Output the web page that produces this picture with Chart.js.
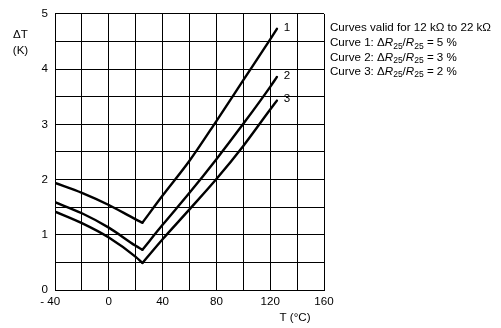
<!DOCTYPE html>
<html>
<head>
<meta charset="utf-8">
<script src="https://cdn.jsdelivr.net/npm/chart.js@4/dist/chart.umd.min.js"></script>
<style>
  html, body { margin: 0; padding: 0; background: #fff; }
  #wrap { width: 501px; height: 328px; }
</style>
</head>
<body>
<div id="wrap"><canvas id="c" width="501" height="328"></canvas></div>
<script>
// Temperatures (°C) for the falling and rising branch of each curve
const tLeft  = [-40, -20, 0, 20, 25];
const tRight = [25, 40, 60, 80, 100, 120, 125];

// ΔT (K) values per curve
const curve1Left  = [1.94, 1.76, 1.54, 1.28, 1.22];
const curve1Right = [1.22, 1.71, 2.34, 3.06, 3.80, 4.54, 4.73];
const curve2Left  = [1.59, 1.39, 1.13, 0.80, 0.73];
const curve2Right = [0.73, 1.18, 1.76, 2.37, 3.01, 3.68, 3.86];
const curve3Left  = [1.42, 1.21, 0.95, 0.60, 0.49];
const curve3Right = [0.49, 0.92, 1.46, 2.01, 2.61, 3.27, 3.43];

const curveNames = ['1', '2', '3'];
const xTickLabels = { '-40': '- 40   ', '0': '0', '40': '40', '80': '80', '120': '120', '160': '160' };
const yTickLabels = ['0', '1', '2', '3', '4', '5'];

const noteLines = [
  [{ t: 'Curves valid for 12 k\u03A9 to 22 k\u03A9' }],
  [{ t: 'Curve 1: \u0394' }, { t: 'R', i: 1 }, { t: '25', s: 1 }, { t: '/' }, { t: 'R', i: 1 }, { t: '25', s: 1 }, { t: ' = 5 %' }],
  [{ t: 'Curve 2: \u0394' }, { t: 'R', i: 1 }, { t: '25', s: 1 }, { t: '/' }, { t: 'R', i: 1 }, { t: '25', s: 1 }, { t: ' = 3 %' }],
  [{ t: 'Curve 3: \u0394' }, { t: 'R', i: 1 }, { t: '25', s: 1 }, { t: '/' }, { t: 'R', i: 1 }, { t: '25', s: 1 }, { t: ' = 2 %' }]
];

const FONT = '"Liberation Sans", Arial, sans-serif';
const FS = 11.6;

function pts(xs, ys) { return xs.map((x, i) => ({ x: x, y: ys[i] })); }

const branches = [
  { c: 0, d: pts(tLeft, curve1Left) },  { c: 0, d: pts(tRight, curve1Right) },
  { c: 1, d: pts(tLeft, curve2Left) },  { c: 1, d: pts(tRight, curve2Right) },
  { c: 2, d: pts(tLeft, curve3Left) },  { c: 2, d: pts(tRight, curve3Right) }
];

const textPlugin = {
  id: 'texts',
  afterDraw(chart) {
    const ctx = chart.ctx;
    const xs = chart.scales.x, ys = chart.scales.y;
    ctx.save();
    ctx.fillStyle = '#000';
    ctx.font = FS + 'px ' + FONT;
    ctx.textAlign = 'center';
    ctx.textBaseline = 'middle';
    // axis titles
    ctx.fillText('\u0394T', 20.5, 35);
    ctx.fillText('(K)', 20.5, 51);
    ctx.fillText('T (\u00B0C)', 295, 318);
    // curve numbers at the rising ends
    const ends = [curve1Right, curve2Right, curve3Right];
    ends.forEach((arr, i) => {
      const px = xs.getPixelForValue(tRight[tRight.length - 1]);
      const py = ys.getPixelForValue(arr[arr.length - 1]);
      ctx.fillText(curveNames[i], px + 10, py - 1.5);
    });
    // notes block
    ctx.textAlign = 'left';
    ctx.textBaseline = 'alphabetic';
    const lineY = [31, 46, 60.5, 74.5];
    noteLines.forEach((parts, li) => {
      let x = 330;
      const base = lineY[li];
      parts.forEach(p => {
        if (p.s) {
          ctx.font = '8.5px ' + FONT;
          ctx.fillText(p.t, x, base + 2.5);
        } else {
          ctx.font = (p.i ? 'italic ' : '') + FS + 'px ' + FONT;
          ctx.fillText(p.t, x, base);
        }
        x += ctx.measureText(p.t).width;
      });
    });
    ctx.restore();
  }
};

new Chart(document.getElementById('c'), {
  type: 'line',
  data: {
    datasets: branches.map(b => ({
      data: b.d,
      borderColor: '#000',
      borderWidth: 2.4,
      pointRadius: 0,
      fill: false,
      cubicInterpolationMode: 'monotone',
      borderCapStyle: 'round',
      borderJoinStyle: 'round'
    }))
  },
  options: {
    responsive: false,
    animation: false,
    layout: { padding: { top: 13, right: 177, bottom: 0, left: 0 } },
    plugins: { legend: { display: false }, tooltip: { enabled: false } },
    scales: {
      x: {
        type: 'linear',
        min: -40, max: 160,
        afterFit(s) { s.height = 38; },
        ticks: {
          stepSize: 20, autoSkip: false, maxRotation: 0, padding: 5,
          color: '#000', font: { family: FONT, size: FS },
          callback: v => (xTickLabels[String(v)] !== undefined ? xTickLabels[String(v)] : '')
        },
        grid: { color: '#000', lineWidth: 1, drawTicks: false },
        border: { color: '#000', width: 1 }
      },
      y: {
        min: 0, max: 5,
        afterFit(s) { s.width = 55; },
        ticks: {
          stepSize: 0.5, autoSkip: false, padding: 7,
          color: '#000', font: { family: FONT, size: FS },
          callback: v => (Number.isInteger(v) ? yTickLabels[v] : '')
        },
        grid: { color: '#000', lineWidth: 1, drawTicks: false },
        border: { color: '#000', width: 1 }
      }
    }
  },
  plugins: [textPlugin]
});
</script>
</body>
</html>
